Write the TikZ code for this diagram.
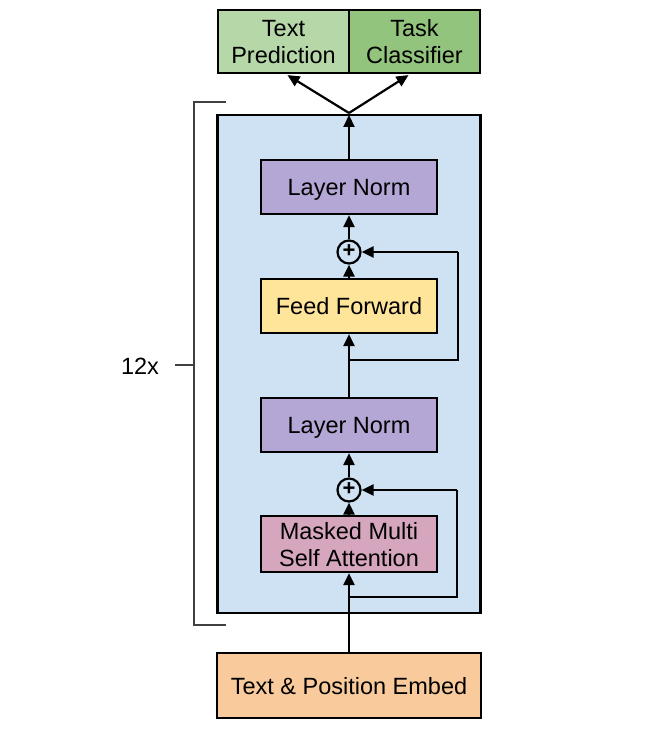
\documentclass[tikz,border=0pt]{standalone}
\usepackage{fontspec}
\setmainfont{Liberation Sans}
\usetikzlibrary{arrows.meta,calc}
\begin{document}
\begin{tikzpicture}[x=1pt,y=-1pt,
  every node/.style={font=\fontsize{23.5}{27}\selectfont},
  blk/.style={draw=black,line width=2.2pt,minimum width=176pt,minimum height=54pt,inner sep=0pt,align=center,text depth=0pt},
  conn/.style={line width=2.2pt,-{Triangle[length=12pt,width=11pt]}},
  plain/.style={line width=2.2pt},
  plusc/.style={draw=black,line width=2.2pt,circle,minimum size=23pt,inner sep=0pt,font=\fontsize{22}{22}\selectfont\bfseries}
]
\useasboundingbox (0,0) rectangle (656,733);
% bracket
\draw[line width=1.3pt,black!75] (226,102) -- (194,102) -- (194,625) -- (226,625);
\draw[line width=1.3pt,black!75] (175,365) -- (194,365);
\node (rep) at (140,366) {12x};
% blue stack
\node[draw=black,line width=2.2pt,fill={rgb,255:red,207;green,226;blue,243},minimum width=263pt,minimum height=498pt,inner sep=0pt] (stack) at (349,364) {};
% top boxes
\node[blk,fill={rgb,255:red,182;green,215;blue,168},minimum width=131pt,minimum height=63pt] (tp) at (283.5,41.5) {Text\\Prediction};
\node[blk,fill={rgb,255:red,147;green,196;blue,125},minimum width=131pt,minimum height=63pt] (tc) at (414.5,41.5) {Task\\Classifier};
% inner blocks
\node[blk,fill={rgb,255:red,180;green,167;blue,214}] (ln1) at (349,187) {Layer Norm};
\node[plusc] (p1) at (349,252) {\raisebox{1pt}{+}};
\node[blk,fill={rgb,255:red,255;green,229;blue,153}] (ff) at (349,306) {Feed Forward};
\node[blk,fill={rgb,255:red,180;green,167;blue,214}] (ln2) at (349,425) {Layer Norm};
\node[plusc] (p2) at (349,490) {\raisebox{1pt}{+}};
\node[blk,fill={rgb,255:red,213;green,166;blue,189},minimum height=56pt] (att) at (349,544) {Masked Multi\\Self Attention};
\node[blk,fill={rgb,255:red,249;green,203;blue,156},minimum width=264pt,minimum height=65pt] (emb) at (349,685.5) {Text \& Position Embed};
% coordinates
\coordinate (top) at (349,115);
\coordinate (split) at (349,113);
\coordinate (b1) at (349,360);
\coordinate (r1a) at (458,360);
\coordinate (r1b) at (458,252);
\coordinate (b2) at (349,597);
\coordinate (r2a) at (457,597);
\coordinate (r2b) at (457,490);
% connectors
\draw[conn] (emb.north) -- (att.south);
\draw[conn] (att.north) -- (p2.south);
\draw[conn] (p2.north) -- (ln2.south);
\draw[conn] (ln2.north) -- (ff.south);
\draw[conn] (ff.north) -- (p1.south);
\draw[conn] (p1.north) -- (ln1.south);
\draw[conn] (ln1.north) -- (top);
\draw[conn] (split) -- ($(tp.south)+(4,1)$);
\draw[conn] (split) -- ($(tc.south)+(-6,1)$);
\draw[plain] (b1) -- (r1a) -- (r1b);
\draw[conn] (r1b) -- (p1.east);
\draw[plain] (b2) -- (r2a) -- (r2b);
\draw[conn] (r2b) -- (p2.east);
\end{tikzpicture}
\end{document}
